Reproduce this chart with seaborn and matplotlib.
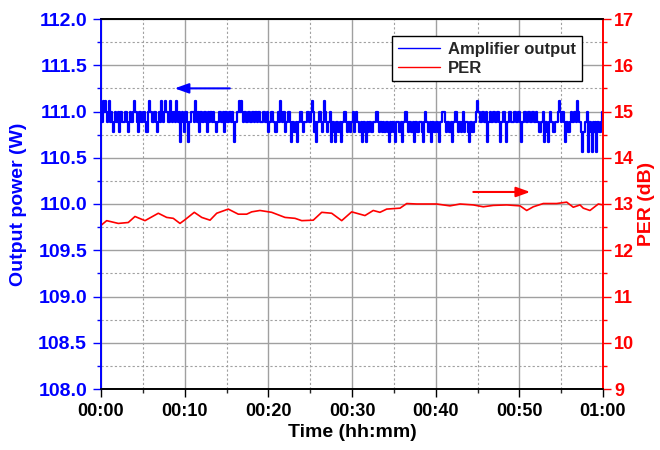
import numpy as np
import pandas as pd
import matplotlib
matplotlib.use("Agg")
import matplotlib.pyplot as plt
from matplotlib.ticker import MultipleLocator
from matplotlib.lines import Line2D
import seaborn as sns

# Amplifier output power (W), logged every 7.5 s over one hour
sample_step_min = 0.125
power_w = [
    111.0, 110.89, 111.11, 111.0, 111.11, 111.0, 110.89, 111.0, 111.11, 110.89, 111.0, 110.89, 110.78, 110.89, 111.0, 110.89, 110.89, 111.0, 110.78, 111.0,
    111.0, 110.89, 110.89, 111.0, 111.0, 110.89, 110.78, 110.89, 111.0, 110.89, 110.89, 111.0, 111.11, 111.0, 111.0, 110.89, 110.78, 111.0, 111.0, 110.89,
    110.89, 111.0, 111.0, 110.89, 110.78, 111.0, 111.11, 111.0, 111.0, 110.89, 110.89, 111.0, 111.0, 110.89, 110.78, 110.89, 111.0, 110.89, 111.11, 111.0,
    110.89, 111.0, 111.11, 111.0, 111.0, 110.89, 111.11, 111.0, 110.89, 111.0, 111.0, 110.89, 111.11, 111.0, 110.89, 111.0, 110.67, 110.89, 111.0, 110.89,
    110.78, 111.0, 111.0, 110.89, 110.67, 110.89, 110.89, 111.0, 111.0, 110.89, 111.11, 111.0, 110.89, 111.0, 110.78, 111.0, 111.0, 110.89, 110.89, 111.0,
    111.0, 110.89, 110.78, 111.0, 110.89, 111.0, 111.0, 110.89, 111.0, 110.89, 110.78, 110.89, 110.89, 111.0, 111.0, 110.89, 110.89, 111.0, 110.78, 111.0,
    111.0, 110.89, 110.89, 111.0, 111.0, 110.89, 111.0, 110.89, 110.67, 110.89, 110.89, 111.0, 111.11, 111.0, 111.11, 111.0, 110.89, 111.0, 111.0, 110.89,
    110.89, 111.0, 111.0, 110.89, 110.89, 111.0, 111.0, 110.89, 111.0, 111.0, 110.89, 111.0, 111.0, 110.89, 110.89, 111.0, 111.0, 110.89, 110.89, 111.0,
    110.78, 110.89, 110.89, 111.0, 111.0, 110.89, 110.89, 110.78, 110.78, 110.89, 111.0, 110.89, 111.11, 111.0, 110.89, 111.0, 110.78, 110.89, 110.89, 111.0,
    111.0, 110.89, 110.67, 110.89, 110.89, 110.78, 110.78, 110.89, 110.67, 110.89, 110.89, 111.0, 111.0, 110.89, 110.78, 110.89, 110.89, 111.0, 111.0, 110.89,
    110.89, 111.0, 111.11, 111.0, 110.78, 110.89, 110.67, 110.89, 110.89, 111.0, 111.0, 110.89, 110.78, 110.89, 111.11, 111.0, 110.89, 110.78, 110.89, 111.0,
    110.67, 110.89, 110.89, 110.78, 110.67, 110.89, 110.89, 110.78, 110.78, 110.89, 110.67, 110.89, 110.89, 111.0, 111.0, 110.89, 110.78, 110.89, 110.89, 110.78,
    110.89, 111.0, 110.78, 110.89, 111.0, 110.89, 110.89, 110.78, 110.78, 110.89, 110.67, 110.89, 110.89, 110.78, 110.67, 110.89, 110.78, 110.89, 110.89, 110.78,
    110.78, 110.89, 110.89, 111.0, 111.0, 110.89, 110.78, 110.89, 110.89, 110.78, 110.89, 110.78, 110.78, 110.89, 110.89, 110.78, 110.67, 110.89, 110.78, 110.89,
    110.89, 110.78, 110.67, 110.89, 110.89, 110.78, 110.78, 110.89, 110.67, 110.89, 110.89, 111.0, 111.0, 110.89, 110.78, 110.89, 110.89, 110.78, 110.78, 110.89,
    110.67, 110.89, 110.89, 110.78, 110.78, 110.89, 110.89, 110.78, 110.67, 110.89, 111.0, 110.89, 110.89, 110.78, 110.78, 110.89, 110.67, 110.89, 110.89, 110.78,
    110.78, 110.89, 110.89, 110.78, 110.67, 110.89, 110.89, 111.0, 111.0, 110.89, 110.78, 110.89, 110.89, 110.78, 110.78, 110.89, 110.67, 110.89, 110.89, 111.0,
    111.0, 110.89, 110.78, 110.89, 110.89, 110.78, 110.89, 111.0, 110.78, 110.89, 110.89, 110.78, 110.67, 110.89, 110.89, 110.78, 110.78, 110.89, 110.89, 111.0,
    111.11, 111.0, 111.0, 110.89, 110.89, 111.0, 111.0, 110.89, 110.89, 111.0, 110.67, 110.89, 111.0, 110.89, 110.89, 111.0, 111.0, 110.89, 110.89, 111.0,
    111.0, 110.89, 110.67, 110.89, 110.89, 111.0, 111.0, 110.89, 110.67, 110.89, 110.89, 111.0, 111.0, 110.89, 110.89, 111.0, 111.0, 110.89, 110.89, 111.0,
    111.0, 110.89, 110.67, 110.89, 110.89, 111.0, 111.0, 110.89, 110.89, 111.0, 111.0, 110.89, 110.89, 111.0, 111.0, 110.89, 111.0, 110.89, 110.89, 110.78,
    110.78, 110.89, 110.89, 111.0, 110.67, 110.89, 110.89, 110.78, 110.67, 110.89, 111.0, 110.89, 110.89, 110.78, 110.78, 110.89, 110.89, 111.0, 111.11, 111.0,
    110.89, 111.0, 111.0, 110.89, 110.67, 110.89, 110.89, 110.78, 110.78, 110.89, 111.0, 110.89, 110.89, 111.0, 111.0, 110.89, 111.11, 111.0, 110.89, 110.78,
    110.56, 110.78, 110.78, 110.89, 110.89, 111.0, 110.56, 110.89, 110.89, 110.78, 110.56, 110.89, 110.78, 110.89, 110.56, 110.89, 110.89, 110.78, 110.78, 110.89,
    111.0,
]

# Polarization extinction ratio (dB) readings
per_time_min = [
    0.08, 0.68, 2.07, 3.26, 4.06, 5.26, 6.85, 7.85, 8.64, 9.44,
    10.04, 11.15, 12.04, 13.03, 13.83, 15.21, 16.41, 17.41, 18.01, 19.0,
    20.4, 21.99, 23.19, 23.99, 25.37, 26.38, 27.57, 28.77, 29.96, 31.55,
    32.54, 33.34, 34.15, 35.74, 36.54, 37.73, 40.12, 41.71, 42.91, 44.5,
    45.69, 46.89, 48.49, 50.08, 50.88, 51.67, 52.86, 54.46, 55.66, 56.45,
    57.25, 57.64, 58.44, 59.44, 60.0,
]
per_db = [
    12.55, 12.64, 12.58, 12.60, 12.73, 12.64, 12.80, 12.71, 12.69, 12.58,
    12.66, 12.82, 12.71, 12.65, 12.80, 12.89, 12.78, 12.78, 12.83, 12.86,
    12.82, 12.71, 12.69, 12.64, 12.65, 12.82, 12.80, 12.64, 12.83, 12.75,
    12.86, 12.82, 12.89, 12.91, 13.01, 13.00, 13.00, 12.96, 13.00, 12.98,
    12.94, 12.97, 12.98, 12.96, 12.86, 12.94, 13.01, 13.01, 13.04, 12.93,
    12.98, 12.91, 12.86, 13.00, 12.98,
]

time_ticks = [0, 10, 20, 30, 40, 50, 60]
time_labels = ["00:00", "00:10", "00:20", "00:30", "00:40", "00:50", "01:00"]

power_df = pd.DataFrame({
    "time": np.arange(len(power_w)) * sample_step_min,
    "power": power_w,
})
per_df = pd.DataFrame({"time": per_time_min, "per": per_db})

sns.set_theme(style="white")
plt.rcParams["font.family"] = ["Liberation Sans", "DejaVu Sans"]
plt.rcParams["font.weight"] = "bold"
# keep every sample of the dense power trace
plt.rcParams["path.simplify"] = False

BLUE = "#0000ff"
RED = "#ff0000"
FS = 13
LABEL_FS = 14

fig = plt.figure(figsize=(6.6, 4.5), dpi=100)
ax = fig.add_axes([101 / 660, 1 - 389 / 450, 502 / 660, 370 / 450])
ax2 = ax.twinx()

sns.lineplot(data=power_df, x="time", y="power", ax=ax, color=BLUE,
             linewidth=1.6, drawstyle="steps-mid", errorbar=None,
             estimator=None, sort=False)
sns.lineplot(data=per_df, x="time", y="per", ax=ax2, color=RED,
             linewidth=1.2, errorbar=None)

ax.set_xlim(0, 60)
ax.set_ylim(108.0, 112.0)
ax2.set_ylim(9, 17)

ax.set_xticks(time_ticks)
ax.set_xticklabels(time_labels)
ax.xaxis.set_minor_locator(MultipleLocator(5))
ax.yaxis.set_major_locator(MultipleLocator(0.5))
ax.yaxis.set_minor_locator(MultipleLocator(0.25))
ax.yaxis.set_major_formatter(plt.FormatStrFormatter("%.1f"))
ax2.yaxis.set_major_locator(MultipleLocator(1))
ax2.yaxis.set_minor_locator(MultipleLocator(0.5))

# grid: solid on major ticks, dashed on minor ticks
ax.grid(which="major", axis="both", color="#a0a0a0", linestyle="-", linewidth=1.0)
ax.grid(which="minor", axis="both", color="#a0a0a0", linestyle=(0, (2, 2)), linewidth=0.8)
ax.set_axisbelow(True)

ax.set_xlabel("Time (hh:mm)", fontsize=LABEL_FS, fontweight="bold", color="black", labelpad=3)
ax.set_ylabel("Output power (W)", fontsize=LABEL_FS, fontweight="bold", color=BLUE, labelpad=8)
ax2.set_ylabel("PER (dB)", fontsize=LABEL_FS, fontweight="bold", color=RED, labelpad=3)

ax.tick_params(axis="x", which="major", direction="out", length=6, width=1,
               labelsize=FS, colors="black", bottom=True, top=False, pad=4)
ax.tick_params(axis="x", which="minor", direction="out", length=3, width=1,
               bottom=True, top=False)
ax.tick_params(axis="y", which="major", direction="out", length=6, width=1,
               labelsize=14, colors=BLUE, left=True, right=False, pad=4)
ax.tick_params(axis="y", which="minor", direction="out", length=3, width=1,
               colors=BLUE, left=True, right=False)
ax2.tick_params(axis="y", which="major", direction="out", length=6, width=1,
                labelsize=FS, colors=RED, right=True, left=False, pad=2)
ax2.tick_params(axis="y", which="minor", direction="out", length=3, width=1,
                colors=RED, right=True, left=False)
for lab in ax.get_xticklabels() + ax.get_yticklabels() + ax2.get_yticklabels():
    lab.set_fontweight("bold")

for a in (ax, ax2):
    a.spines["top"].set_color("black")
    a.spines["bottom"].set_color("black")
    a.spines["left"].set_color(BLUE)
    a.spines["right"].set_color(RED)
    for s in a.spines.values():
        s.set_linewidth(1.2)
        s.set_visible(True)

# direction arrows pointing to each curve's axis
ax.annotate("", xy=(8.8, 111.25), xytext=(15.4, 111.25),
            arrowprops=dict(arrowstyle="-|>,head_length=0.7,head_width=0.25",
                            color=BLUE, lw=1.5, shrinkA=0, shrinkB=0))
ax2.annotate("", xy=(51.3, 13.26), xytext=(44.5, 13.26),
             arrowprops=dict(arrowstyle="-|>,head_length=0.7,head_width=0.25",
                             color=RED, lw=1.5, shrinkA=0, shrinkB=0))

handles = [Line2D([], [], color=BLUE, lw=1.0), Line2D([], [], color=RED, lw=1.0)]
leg = ax2.legend(handles, ["Amplifier output", "PER"], loc="upper right",
                 bbox_to_anchor=(0.958, 0.953), borderaxespad=0, frameon=True,
                 fancybox=False, edgecolor="black", framealpha=1,
                 handlelength=2.5, handletextpad=0.5, borderpad=0.35,
                 labelspacing=0.2, prop={"weight": "bold", "size": 12})
leg.get_frame().set_linewidth(1.0)

fig.savefig("out.png", dpi=100)
